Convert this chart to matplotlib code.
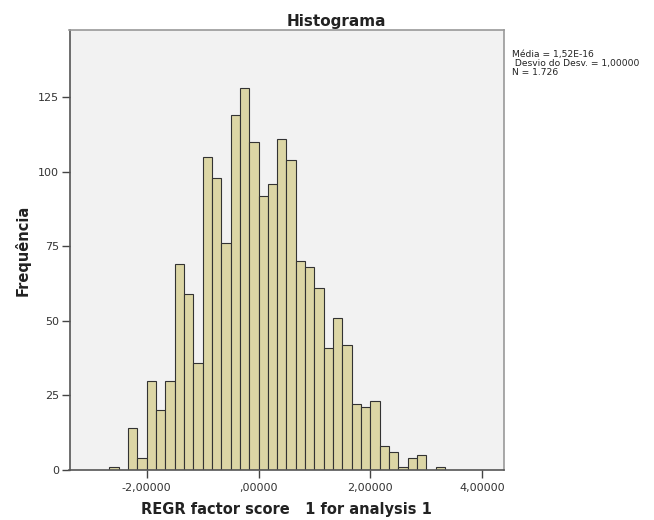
import matplotlib
matplotlib.use('Agg')
import matplotlib.pyplot as plt

# Data: histogram of REGR factor score 1 (bins of width 1/6 starting at -2,6667)
bin_start = -16 / 6
bin_width = 1 / 6
contagens = [
    1, 0, 14, 4, 30, 20, 30, 69, 59, 36,
    105, 98, 76, 119, 128, 110, 92, 96, 111, 104,
    70, 68, 61, 41, 51, 42, 22, 21, 23, 8,
    6, 1, 4, 5, 0, 1
]
x_ticks = [-2, 0, 2, 4]
x_ticklabels = ['-2,00000', ',00000', '2,00000', '4,00000']
y_ticks = [0, 25, 50, 75, 100, 125]
stats_text = 'Média = 1,52E-16\n Desvio do Desv. = 1,00000\nN = 1.726'

plt.rcParams['font.family'] = ['DejaVu Sans']

fig = plt.figure(figsize=(6.54, 5.2), dpi=100)
ax = fig.add_axes([69.5 / 654, 1 - 470 / 520, (504 - 69.5) / 654, (470 - 30) / 520])
ax.set_facecolor('#f2f2f2')

lefts = [bin_start + i * bin_width for i in range(len(contagens))]
ax.bar(lefts, contagens, width=bin_width, align='edge',
       color='#dcd6a5', edgecolor='#333333', linewidth=0.8)

ax.set_xlim(-3.38, 4.39)
ax.set_ylim(0, 147.5)
ax.set_xticks(x_ticks)
ax.set_xticklabels(x_ticklabels)
ax.set_yticks(y_ticks)
ax.tick_params(axis='both', direction='out', length=6, width=1, color='#444444',
               labelsize=8, labelcolor='#333333', pad=1.5)
ax.tick_params(axis='x', pad=3)

for side in ['left', 'bottom']:
    ax.spines[side].set_color('#555555')
    ax.spines[side].set_linewidth(1.2)
for side in ['top', 'right']:
    ax.spines[side].set_color('#999999')
    ax.spines[side].set_linewidth(1.2)

ax.set_xlabel('REGR factor score   1 for analysis 1', fontsize=10.5,
              fontweight='bold', color='#222222', labelpad=7)
ax.set_ylabel('Frequência', fontsize=10.5, fontweight='bold',
              color='#222222', labelpad=5)

fig.text(336 / 654, 1 - 26 / 520, 'Histograma', ha='center', va='baseline',
         fontsize=11, fontweight='bold', color='#222222')
fig.text(512 / 654, 1 - 50 / 520, stats_text, ha='left', va='top',
         fontsize=6.6, color='#222222', linespacing=1.0)

fig.savefig('out.png', dpi=100, facecolor='white')
